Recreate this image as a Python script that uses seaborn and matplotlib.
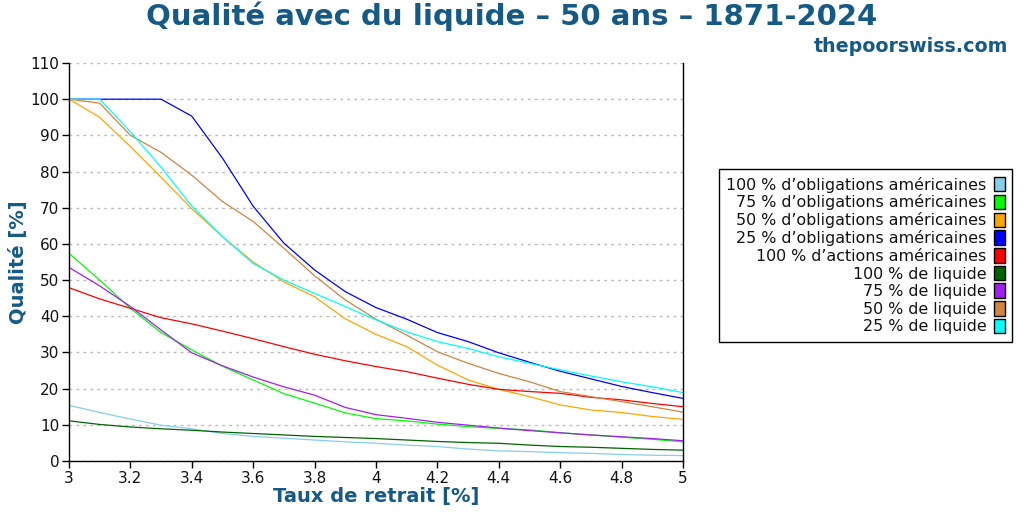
import matplotlib
matplotlib.use("Agg")
import matplotlib.pyplot as plt
from matplotlib.patches import Patch
import seaborn as sns
import pandas as pd

# ---- data ----
taux = [3.0, 3.1, 3.2, 3.3, 3.4, 3.5, 3.6, 3.7, 3.8, 3.9, 4.0,
        4.1, 4.2, 4.3, 4.4, 4.5, 4.6, 4.7, 4.8, 4.9, 5.0]

oblig100 = [15.4, 13.4, 11.6, 9.9, 8.9, 7.6, 6.8, 6.3, 5.8, 5.3, 4.9,
            4.4, 4.0, 3.3, 2.8, 2.6, 2.3, 2.1, 1.8, 1.6, 1.5]
oblig75 = [57.4, 50.0, 42.2, 35.5, 30.7, 26.2, 22.4, 18.6, 16.0, 13.3, 11.7,
           11.1, 10.2, 9.5, 9.0, 8.6, 7.8, 7.2, 6.6, 6.0, 5.3]
oblig50 = [100, 95.0, 86.9, 78.4, 69.7, 62.0, 55.0, 49.5, 45.4, 39.3, 35.0,
           31.6, 26.5, 22.4, 19.8, 17.8, 15.5, 14.1, 13.4, 12.3, 11.5]
oblig25 = [100, 100, 100, 100, 95.3, 83.7, 70.4, 60.2, 52.8, 46.8, 42.4,
           39.2, 35.5, 33.0, 29.9, 27.3, 24.8, 22.7, 20.6, 18.9, 17.3]
actions100 = [47.9, 44.8, 42.2, 39.6, 37.9, 35.9, 33.8, 31.6, 29.5, 27.7, 26.1,
              24.7, 22.9, 21.2, 19.8, 19.2, 18.7, 17.6, 16.9, 15.9, 15.0]
liq100 = [11.1, 10.1, 9.4, 8.9, 8.5, 8.0, 7.6, 7.2, 6.8, 6.5, 6.2,
          5.8, 5.4, 5.1, 4.9, 4.4, 4.0, 3.8, 3.5, 3.2, 3.0]
liq75 = [53.5, 48.4, 42.7, 36.2, 29.9, 26.3, 23.2, 20.5, 18.2, 14.8, 12.8,
         11.8, 10.7, 9.9, 9.1, 8.4, 7.8, 7.2, 6.7, 6.2, 5.6]
liq50 = [100, 98.9, 90.0, 85.3, 79.0, 71.7, 66.2, 58.8, 51.2, 44.5, 39.2,
         34.8, 30.2, 27.0, 24.2, 21.9, 19.2, 17.8, 16.4, 15.0, 13.5]
liq25 = [100, 100, 91.0, 81.2, 70.4, 62.0, 54.6, 50.0, 46.3, 42.7, 39.0,
         35.7, 33.0, 31.1, 28.8, 27.0, 25.2, 23.5, 21.9, 20.5, 18.9]

series_names = [
    "100 % d’obligations américaines",
    "75 % d’obligations américaines",
    "50 % d’obligations américaines",
    "25 % d’obligations américaines",
    "100 % d’actions américaines",
    "100 % de liquide",
    "75 % de liquide",
    "50 % de liquide",
    "25 % de liquide",
]
series_values = [oblig100, oblig75, oblig50, oblig25, actions100,
                 liq100, liq75, liq50, liq25]
colors = ["#87ceeb", "#00ff00", "#ffa500", "#0000ff", "#ff0000",
          "#006400", "#a020f0", "#cd853f", "#00ffff"]

x_ticks = [3.0, 3.2, 3.4, 3.6, 3.8, 4.0, 4.2, 4.4, 4.6, 4.8, 5.0]
x_tick_labels = ["3", "3.2", "3.4", "3.6", "3.8", "4", "4.2", "4.4", "4.6", "4.8", "5"]
y_ticks = list(range(0, 111, 10))

title = "Qualité avec du liquide – 50 ans – 1871-2024"
watermark = "thepoorswiss.com"
xlabel = "Taux de retrait [%]"
ylabel = "Qualité [%]"

# ---- build long table ----
rows = []
for name, vals in zip(series_names, series_values):
    for xv, yv in zip(taux, vals):
        rows.append({"taux": xv, "qualite": yv, "serie": name})
df = pd.DataFrame(rows)

sns.set_theme(style="white")
plt.rcParams["font.family"] = ["DejaVu Sans"]

accent = "#155a86"

fig = plt.figure(figsize=(10.24, 5.12), dpi=100)
ax = fig.add_axes([69 / 1024, 1 - 461 / 512, (683 - 69) / 1024, (461 - 63) / 512])

sns.lineplot(data=df, x="taux", y="qualite", hue="serie",
             hue_order=series_names, palette=dict(zip(series_names, colors)),
             linewidth=0.9, legend=False, ax=ax)

ax.set_xlim(3.0, 5.0)
ax.set_ylim(0, 110)
ax.set_xticks(x_ticks)
ax.set_xticklabels(x_tick_labels)
ax.set_yticks(y_ticks)
ax.tick_params(axis="both", direction="out", length=5, width=1, color="black",
               labelsize=11, labelcolor="#111111", left=True, bottom=True, pad=2)
ax.yaxis.grid(True, color="#bbbbbb", linestyle=(0, (2, 3)), linewidth=1)
ax.xaxis.grid(False)
for side in ["left", "bottom", "right"]:
    ax.spines[side].set_visible(True)
    ax.spines[side].set_color("black")
    ax.spines[side].set_linewidth(1)
ax.spines["top"].set_visible(False)

ax.set_xlabel(xlabel, fontsize=14, fontweight="bold", color=accent, labelpad=1)
ax.set_ylabel(ylabel, fontsize=14, fontweight="bold", color=accent, labelpad=2)

fig.text(0.5, 0.968, title, ha="center", va="center", fontsize=21,
         fontweight="bold", color=accent)
fig.text(1008 / 1024, 0.910, watermark, ha="right", va="center", fontsize=13.7,
         fontweight="bold", color=accent)

handles = [Patch(facecolor=c, edgecolor="black", linewidth=1) for c in colors]
leg = fig.legend(handles, series_names, loc="center left",
                 bbox_to_anchor=(719 / 1024, 1 - 255.5 / 512),
                 markerfirst=False, fontsize=11.4, frameon=True, fancybox=False,
                 framealpha=1, edgecolor="black", borderaxespad=0,
                 handlelength=0.65, handleheight=1.05, handletextpad=0.5,
                 labelspacing=0.12, borderpad=0.45)
leg.get_frame().set_linewidth(1)
for t in leg.get_texts():
    t.set_ha("right")
    t.set_color("#111111")
leg._legend_box.align = "right"

fig.savefig("out.png", dpi=100)
